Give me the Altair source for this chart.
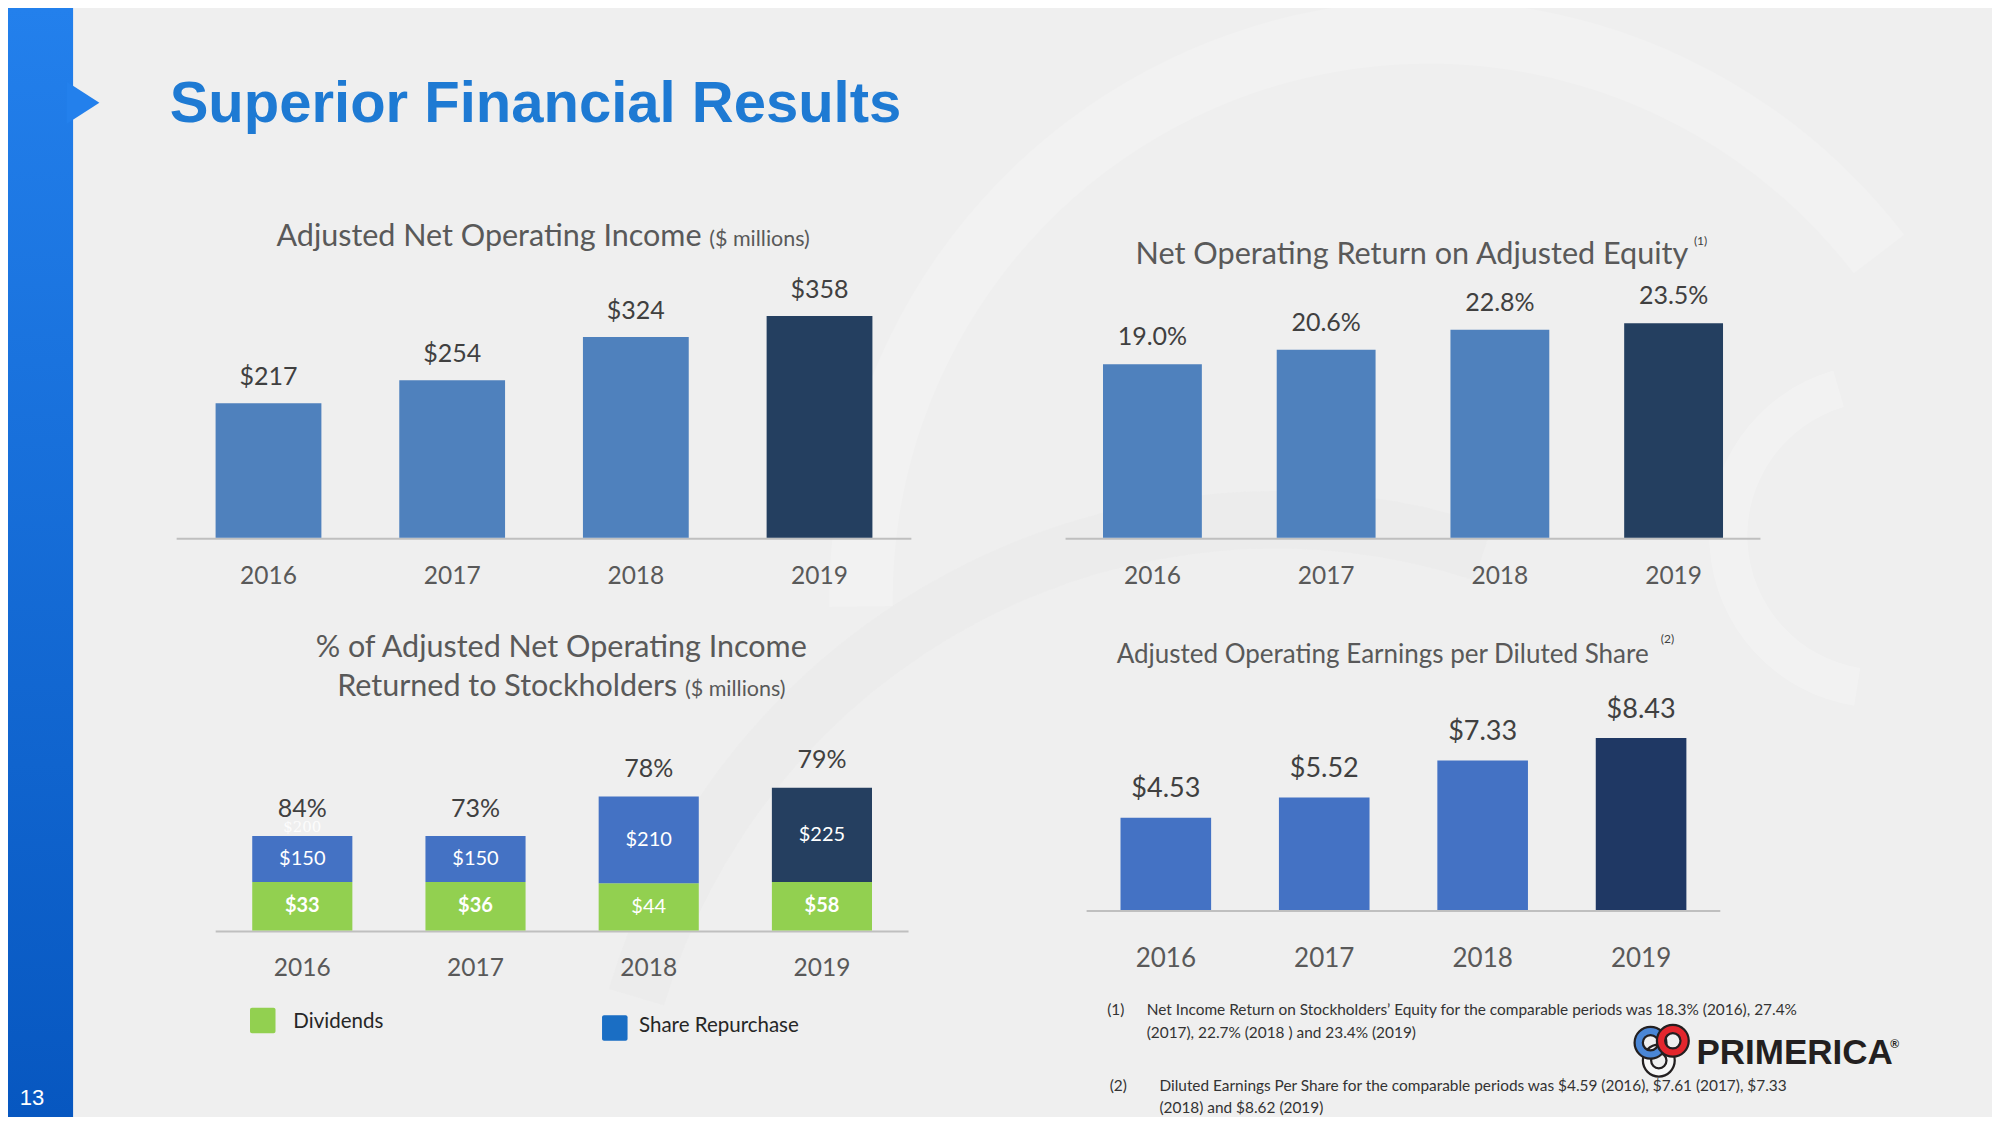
import altair as alt
import pandas as pd

# ---------------- data ----------------
years = ["2016", "2017", "2018", "2019"]

anoi = [217, 254, 324, 358]
anoi_labels = ["$217", "$254", "$324", "$358"]

roe = [19.0, 20.6, 22.8, 23.5]
roe_labels = ["19.0%", "20.6%", "22.8%", "23.5%"]

eps = [4.53, 5.52, 7.33, 8.43]
eps_labels = ["$4.53", "$5.52", "$7.33", "$8.43"]

div_labels = ["$33", "$36", "$44", "$58"]
div_bold = [True, True, False, True]
rep_labels = ["$150", "$150", "$210", "$225"]
pct_labels = ["84%", "73%", "78%", "79%"]
# drawn segment heights of the stacked bars
# (the source chart does not draw them proportionally to their labels)
div_drawn = [38, 38, 37, 38]
rep_drawn = [36, 36, 68, 74]
ghost_label = "$200"

footnote1 = ["Net Income Return on Stockholders\u2019 Equity for the comparable periods was 18.3% (2016), 27.4%",
             "(2017), 22.7% (2018 ) and 23.4% (2019)"]
footnote2 = ["Diluted Earnings Per Share for the comparable periods was $4.59 (2016), $7.61 (2017), $7.33",
             "(2018) and $8.62 (2019)"]

# ---------------- layout helpers (reference measured on a 1568-wide copy) ----------------
S = 2000 / 1568.0


def X(d):
    return d * S - 8


def Y(d):
    return d * S - 8


def F(d):
    return d * S


FONT = "Lato"
GRAY = "#595959"
DARKTXT = "#404040"
AXIS = "#bfbfbf"

one = pd.DataFrame({"a": [0]})


def txt(text, x, y, size, color=GRAY, align="left", weight="normal", font=FONT, baseline="alphabetic", opacity=1):
    return alt.Chart(one).mark_text(
        text=text, align=align, baseline=baseline, fontSize=size, font=font,
        fontWeight=weight, color=color, opacity=opacity
    ).encode(x=alt.value(x), y=alt.value(y))


def band_x(x0, x1, pi):
    return alt.X("year:N", sort=years,
                 scale=alt.Scale(domain=years, range=[X(x0), X(x1)], paddingInner=pi, paddingOuter=pi / 2),
                 axis=None)


def bar_panel(vals, labels, x0, x1, pi, base, k, ymax, light, dark, lab_gap, lab_size, yr_base, yr_size,
              lab_color=DARKTXT):
    df = pd.DataFrame({"year": years, "v": vals, "lab": labels})
    xs = band_x(x0, x1, pi)
    ys = alt.Y("v:Q", scale=alt.Scale(domain=[0, ymax], range=[Y(base), Y(base - ymax * k)], nice=False, zero=True),
               axis=None)
    col = alt.condition("datum.year == '2019'", alt.value(dark), alt.value(light))
    bars = alt.Chart(df).mark_bar().encode(x=xs, y=ys, color=col)
    labs = alt.Chart(df).mark_text(font=FONT, fontSize=lab_size, color=lab_color, baseline="alphabetic",
                                   dy=-F(lab_gap)).encode(x=xs, y=ys, text="lab:N")
    yrs = alt.Chart(df).mark_text(font=FONT, fontSize=yr_size, color=GRAY, baseline="alphabetic").encode(
        x=xs, y=alt.value(Y(yr_base)), text="year:N")
    rule = alt.Chart(one).mark_rule(color=AXIS, strokeWidth=2).encode(
        x=alt.value(X(x0)), x2=alt.value(X(x1)), y=alt.value(Y(base) + 1))
    return alt.layer(rule, bars, labs, yrs)


def arc(cx, cy, r0, r1, t0, t1, color, opacity):
    return alt.Chart(one).mark_arc(color=color, opacity=opacity).encode(
        x=alt.value(X(cx)), y=alt.value(Y(cy)), theta=alt.value(t0), theta2=alt.value(t1),
        radius=alt.value(F(r1)), radius2=alt.value(F(r0)))


layers = []

# ---------------- faint background watermark ----------------
layers.append(arc(1120, 470, 420, 470, 4.7, 7.2, "#ffffff", 0.18))
layers.append(arc(1000, 930, 500, 545, 5.0, 6.6, "#e4e4e4", 0.22))
layers.append(arc(1475, 420, 105, 135, 3.3, 6.0, "#ffffff", 0.22))

# ---------------- slide decoration ----------------
grad = alt.Gradient(gradient="linear", x1=0, x2=0, y1=0, y2=1,
                    stops=[alt.GradientStop(color="#2380ec", offset=0),
                           alt.GradientStop(color="#0757c0", offset=1)])
layers.append(alt.Chart(one).mark_rect(color=grad).encode(
    x=alt.value(0), x2=alt.value(X(57.3)), y=alt.value(0), y2=alt.value(1109)))
layers.append(alt.Chart(one).mark_point(shape="M-0.3,-1L1.25,0L-0.3,1Z", filled=True, size=F(33) ** 2,
                                        color="#2380ec", opacity=1, strokeWidth=0).encode(
    x=alt.value(X(57.3)), y=alt.value(Y(80.5))))
layers.append(txt("13", X(15.5), Y(866.5), 22, color="white", font="Liberation Sans"))
layers.append(txt("Superior Financial Results", X(133), Y(96), 58, color="#1e7ad3", weight="bold",
                  font="Liberation Sans"))

# ---------------- panel 1 ----------------
layers.append(bar_panel(anoi, anoi_labels, 138.5, 714.5, 0.424, 421.5, 0.4855, 400,
                        "#4f81bd", "#243f60", 14, 25, 458, 24.5))
layers.append(txt("Adjusted Net Operating Income", X(550), Y(193), 30.5, align="right"))
layers.append(txt("($ millions)", X(556), Y(193), 21.5))

# ---------------- panel 2 ----------------
layers.append(bar_panel(roe, roe_labels, 835.4, 1380.2, 0.431, 421.5, 7.15, 25,
                        "#4f81bd", "#243f60", 15, 25, 458, 24.5))
layers.append(txt("Net Operating Return on Adjusted Equity", X(1107), Y(207), 30.6, align="center"))
layers.append(txt("(1)", X(1328), Y(192), 12, color="#404040"))

# ---------------- panel 3 (stacked) ----------------
seg = pd.DataFrame({
    "year": years * 2,
    "order": [0] * 4 + [1] * 4,
    "drawn": div_drawn + rep_drawn,
    "lab": div_labels + rep_labels,
    "bold": div_bold + [False] * 4,
    "col": ["#92d050"] * 4 + ["#4472c4", "#4472c4", "#4472c4", "#253f60"],
})
tot = pd.DataFrame({"year": years, "total": [a + b for a, b in zip(div_drawn, rep_drawn)], "pct": pct_labels,
                    "ghost": [ghost_label, "", "", ""]})
xs3 = band_x(169.1, 712.3, 0.422)
ysc3 = alt.Scale(domain=[0, 150], range=[Y(729.5), Y(729.5 - 150)], nice=False, zero=True)
stacked = alt.Chart(seg).transform_stack(
    stack="drawn", groupby=["year"], sort=[alt.SortField("order")], as_=["y0", "y1"]
).transform_calculate(mid="(datum.y0 + datum.y1) / 2")
p3_bars = stacked.mark_bar().encode(x=xs3, y=alt.Y("y0:Q", scale=ysc3, axis=None), y2="y1:Q",
                                   color=alt.Color("col:N", scale=None))
p3_lab_n = stacked.transform_filter("!datum.bold").mark_text(
    font=FONT, fontSize=20, color="white", baseline="middle", dy=0).encode(
    x=xs3, y=alt.Y("mid:Q", scale=ysc3, axis=None), text="lab:N")
p3_lab_b = stacked.transform_filter("datum.bold").mark_text(
    font=FONT, fontSize=20, color="white", fontWeight="bold", baseline="middle", dy=0).encode(
    x=xs3, y=alt.Y("mid:Q", scale=ysc3, axis=None), text="lab:N")
p3_pct = alt.Chart(tot).mark_text(font=FONT, fontSize=25, color=DARKTXT, baseline="alphabetic",
                                  dy=-F(15)).encode(x=xs3, y=alt.Y("total:Q", scale=ysc3, axis=None),
                                                    text="pct:N")
p3_ghost = alt.Chart(tot).mark_text(font="DejaVu Serif", fontSize=15, color="white", baseline="alphabetic",
                                    dy=-F(3.5), opacity=0.85).encode(
    x=xs3, y=alt.Y("total:Q", scale=ysc3, axis=None), text="ghost:N")
p3_years = alt.Chart(tot).mark_text(font=FONT, fontSize=24.5, color=GRAY, baseline="alphabetic").encode(
    x=xs3, y=alt.value(Y(765)), text="year:N")
p3_rule = alt.Chart(one).mark_rule(color=AXIS, strokeWidth=2).encode(
    x=alt.value(X(169.1)), x2=alt.value(X(712.3)), y=alt.value(Y(729.5) + 1))
layers.append(alt.layer(p3_rule, p3_bars, p3_lab_n, p3_lab_b, p3_pct, p3_ghost, p3_years))
layers.append(txt("% of Adjusted Net Operating Income", X(440), Y(515), 30.5, align="center"))
layers.append(txt("Returned to Stockholders", X(531), Y(546), 30.5, align="right"))
layers.append(txt("($ millions)", X(537), Y(546), 21.5))

# legend
layers.append(alt.Chart(one).mark_rect(color="#92d050", cornerRadius=2).encode(
    x=alt.value(X(196)), x2=alt.value(X(216)), y=alt.value(Y(790)), y2=alt.value(Y(810))))
layers.append(txt("Dividends", X(230), Y(806), 20.5, color="#262626"))
layers.append(alt.Chart(one).mark_rect(color="#1a6ec4", cornerRadius=2).encode(
    x=alt.value(X(472)), x2=alt.value(X(492)), y=alt.value(Y(796)), y2=alt.value(Y(816))))
layers.append(txt("Share Repurchase", X(501), Y(809), 20.5, color="#262626"))

# ---------------- panel 4 ----------------
layers.append(bar_panel(eps, eps_labels, 851.9, 1348.7, 0.428, 713.5, 16.0, 10,
                        "#4472c4", "#1f3864", 16, 27, 758, 26))
layers.append(txt("Adjusted Operating Earnings per Diluted Share", X(1084), Y(520), 26, align="center"))
layers.append(txt("(2)", X(1302), Y(504), 12, color="#404040"))

# ---------------- footnotes ----------------
FN = 15.4
layers.append(txt("(1)", X(868), Y(796), FN, color="#333333"))
layers.append(txt(footnote1[0], X(899), Y(796), FN, color="#333333"))
layers.append(txt(footnote1[1], X(899), Y(813.5), FN, color="#333333"))
layers.append(txt("(2)", X(870), Y(855), FN, color="#333333"))
layers.append(txt(footnote2[0], X(909), Y(855), FN, color="#333333"))
layers.append(txt(footnote2[1], X(909), Y(872.5), FN, color="#333333"))

# ---------------- logo ----------------
rings = [("#f7f7f7", 1300.5, 831.5), ("#4a86d6", 1294, 817.5), ("#e3262d", 1311.5, 816)]
for c, cx, cy in rings:
    layers.append(alt.Chart(one).mark_point(shape="circle", filled=False, size=F(18.5) ** 2, color="#231f20",
                                            strokeWidth=10.5, opacity=1).encode(x=alt.value(X(cx)), y=alt.value(Y(cy))))
    layers.append(alt.Chart(one).mark_point(shape="circle", filled=False, size=F(18.5) ** 2, color=c,
                                            strokeWidth=6, opacity=1).encode(x=alt.value(X(cx)), y=alt.value(Y(cy))))
layers.append(txt("PRIMERICA", X(1330), Y(834), 35, color="#231f20", weight="bold", font="Liberation Sans"))
layers.append(txt("\u00ae", X(1482), Y(822), 12, color="#231f20", weight="bold", font="Liberation Sans"))

chart = alt.layer(*layers).resolve_scale(x="independent", y="independent").properties(
    width=1984, height=1109, background="#efefef", padding=0,
    autosize=alt.AutoSizeParams(type="none")
).configure_view(stroke=None)

chart.save("out.html", embed_options={"renderer": "svg", "actions": False})
